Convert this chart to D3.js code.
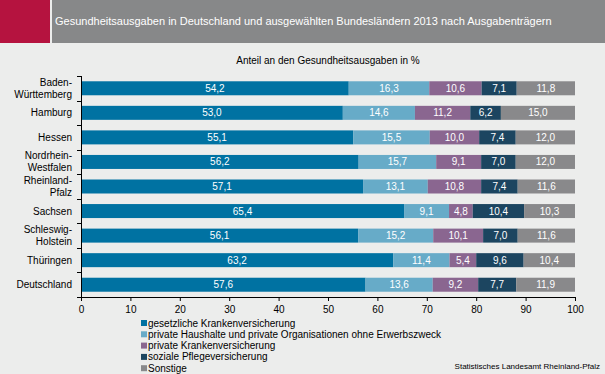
<!DOCTYPE html>
<html>
<head>
<meta charset="utf-8">
<script src="https://cdn.jsdelivr.net/npm/d3@7"></script>
<style>
  body { margin: 0; background: #ecedec; }
  svg { display: block; font-family: Arial, 'Liberation Sans', sans-serif; }
</style>
</head>
<body>
<svg width="605" height="374"></svg>
<script>
const regions = ['Baden-\nWürttemberg', 'Hamburg', 'Hessen', 'Nordrhein-\nWestfalen', 'Rheinland-\nPfalz', 'Sachsen', 'Schleswig-\nHolstein', 'Thüringen', 'Deutschland']
const seriesNames = ['gesetzliche Krankenversicherung', 'private Haushalte und private Organisationen ohne Erwerbszweck', 'private Krankenversicherung', 'soziale Pflegeversicherung', 'Sonstige']
const gkv = [54.2, 53.0, 55.1, 56.2, 57.1, 65.4, 56.1, 63.2, 57.6]
const privHH = [16.3, 14.6, 15.5, 15.7, 13.1, 9.1, 15.2, 11.4, 13.6]
const pkv = [10.6, 11.2, 10.0, 9.1, 10.8, 4.8, 10.1, 5.4, 9.2]
const spv = [7.1, 6.2, 7.4, 7.0, 7.4, 10.4, 7.0, 9.6, 7.7]
const sonst = [11.8, 15.0, 12.0, 12.0, 11.6, 10.3, 11.6, 10.4, 11.9]
const xTicks = [0, 10, 20, 30, 40, 50, 60, 70, 80, 90, 100]
const colors = ['#0072a2', '#67abc8', '#8a6690', '#1c4560', '#89898b']

const svg = d3.select('svg')

// header band
svg.append('rect').attr('x', 0).attr('y', 0).attr('width', 50).attr('height', 43).attr('fill', '#b5133f')
svg.append('rect').attr('x', 52).attr('y', 0).attr('width', 553).attr('height', 43).attr('fill', '#878889')
svg.append('text')
  .attr('x', 55).attr('y', 25)
  .attr('fill', '#fff').attr('font-size', 11)
  .text('Gesundheitsausgaben in Deutschland und ausgewählten Bundesländern 2013 nach Ausgabenträgern')

svg.append('text')
  .attr('x', 328).attr('y', 64)
  .attr('text-anchor', 'middle').attr('font-size', 10).attr('fill', '#000')
  .text('Anteil an den Gesundheitsausgaben in %')

const x = d3.scaleLinear().domain([0, 100]).range([81, 575])
const y = d3.scaleBand().domain(regions).range([76, 297]).paddingInner(0.43).paddingOuter(0.215)

const series = [gkv, privHH, pkv, spv, sonst]
const table = regions.map((r, i) => {
  const row = { region: r }
  series.forEach((s, k) => { row['s' + k] = s[i] })
  return row
})
const stacked = d3.stack().keys(series.map((s, k) => 's' + k))(table)

const g = svg.append('g')
stacked.forEach((layer, k) => {
  const lg = g.append('g')
  lg.selectAll('rect')
    .data(layer)
    .enter().append('rect')
    .attr('x', (d) => x(d[0]))
    .attr('y', (d) => y(d.data.region))
    .attr('width', (d) => x(d[1]) - x(d[0]))
    .attr('height', y.bandwidth())
    .attr('fill', colors[k])
  lg.selectAll('text')
    .data(layer)
    .enter().append('text')
    .attr('x', (d) => (x(d[0]) + x(d[1])) / 2)
    .attr('y', (d) => y(d.data.region) + y.bandwidth() / 2 + 3.5)
    .attr('text-anchor', 'middle')
    .attr('font-size', 10)
    .attr('fill', '#fff')
    .text((d) => (d[1] - d[0]).toFixed(1).replace('.', ','))
})

// x axis
const xAxis = svg.append('g')
  .attr('transform', 'translate(0,297)')
  .call(d3.axisBottom(x).tickValues(xTicks).tickSize(4).tickSizeOuter(0))
xAxis.select('.domain').attr('stroke', '#000')
xAxis.selectAll('text').attr('font-size', 10).attr('fill', '#000').attr('dy', '0.9em')

// y axis with ticks at band boundaries
const yAxis = svg.append('g')
yAxis.append('line').attr('x1', 81.5).attr('x2', 81.5).attr('y1', 76).attr('y2', 297).attr('stroke', '#000')
const step = y.step()
d3.range(regions.length + 1).forEach((i) => {
  const yy = Math.round(76 + i * (221 / regions.length)) + 0.5
  yAxis.append('line').attr('x1', 77).attr('x2', 81.5).attr('y1', yy).attr('y2', yy).attr('stroke', '#000')
})
regions.forEach((r) => {
  const lines = r.split('\n')
  const cy = y(r) + y.bandwidth() / 2
  const t = yAxis.append('text')
    .attr('text-anchor', 'end').attr('font-size', 10).attr('fill', '#000')
  lines.forEach((l, j) => {
    t.append('tspan')
      .attr('x', 72)
      .attr('y', cy + 3.5 + (j - (lines.length - 1) / 2) * 12)
      .text(l)
  })
})

// legend
const legend = svg.append('g')
seriesNames.forEach((n, k) => {
  const ly = 323 + k * 11.3
  legend.append('rect').attr('x', 141).attr('y', ly - 3).attr('width', 6).attr('height', 6).attr('fill', colors[k])
  legend.append('text').attr('x', 148).attr('y', ly + 3.5).attr('font-size', 10).attr('fill', '#000').text(n)
})

svg.append('text')
  .attr('x', 600).attr('y', 369)
  .attr('text-anchor', 'end').attr('font-size', 8).attr('fill', '#000')
  .text('Statistisches Landesamt Rheinland-Pfalz')
</script>
</body>
</html>
